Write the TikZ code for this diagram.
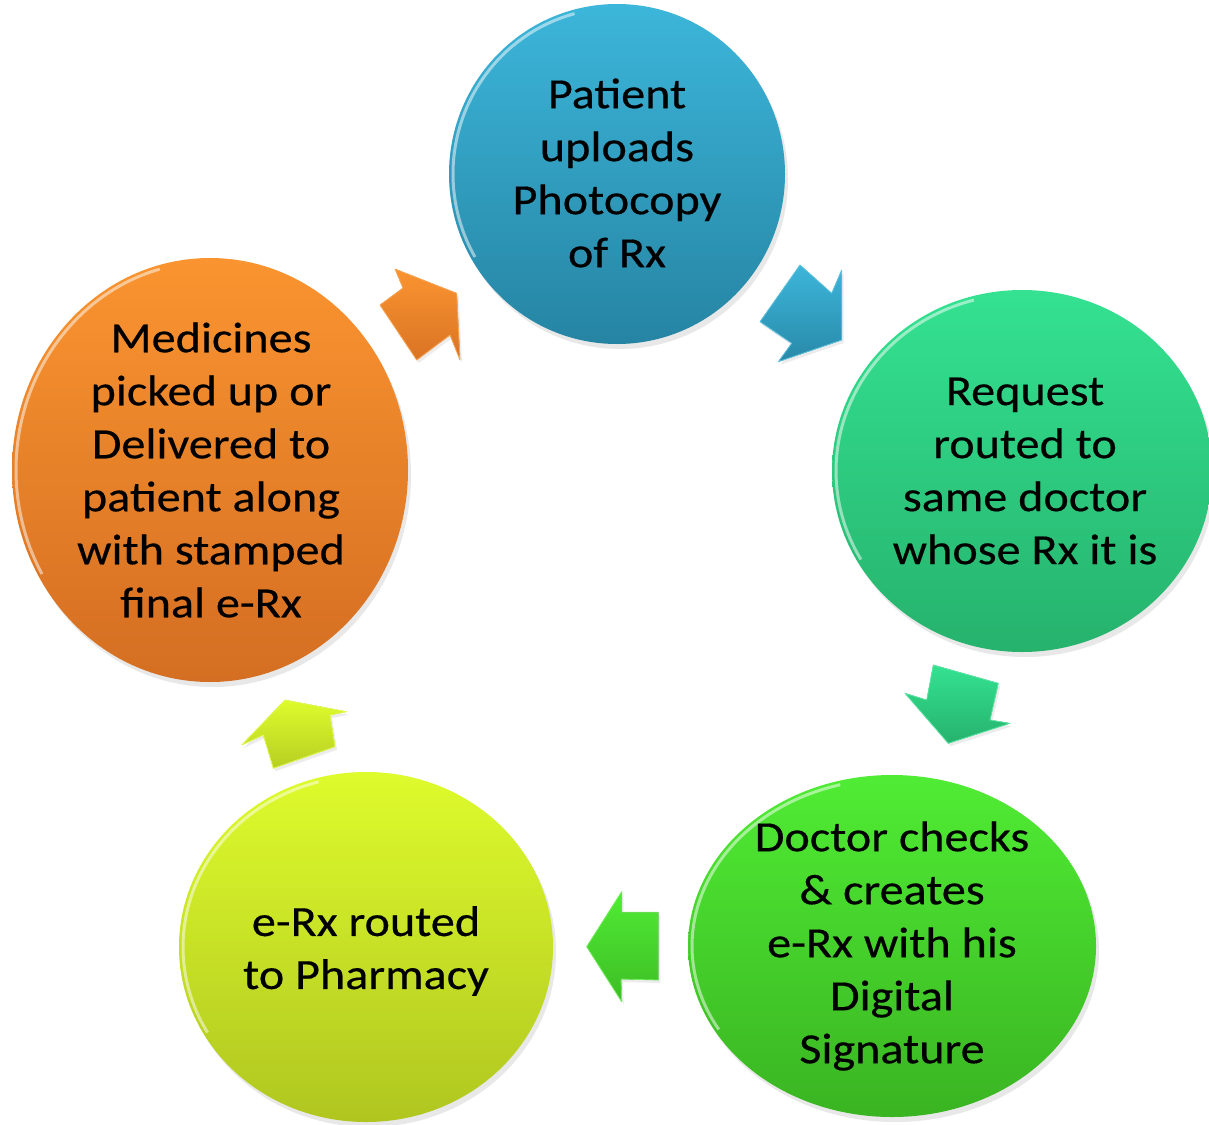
\documentclass[tikz,border=0pt]{standalone}
\usepackage{fontspec}
\setmainfont{Carlito}[FakeStretch=1.12,FakeBold=0.4]
\usetikzlibrary{shapes.geometric,shadows}
\definecolor{bluetop}{RGB}{60,182,218}
\definecolor{bluebot}{RGB}{38,132,163}
\definecolor{tealtop}{RGB}{52,226,145}
\definecolor{tealbot}{RGB}{38,178,108}
\definecolor{greentop}{RGB}{80,236,52}
\definecolor{greenbot}{RGB}{58,180,34}
\definecolor{yeltop}{RGB}{222,251,44}
\definecolor{yelbot}{RGB}{176,198,32}
\definecolor{orgtop}{RGB}{250,148,48}
\definecolor{orgbot}{RGB}{212,110,34}
\begin{document}
\begin{tikzpicture}[x=1pt,y=-1pt,
  stage/.style={ellipse, inner sep=0pt, draw=none,
    drop shadow={opacity=0.18, shadow xshift=3pt, shadow yshift=-5pt}},
  stagetext/.style={inner sep=0pt, align=center, text=black,
    font=\fontsize{43}{53}\selectfont},
  rim/.style={white, opacity=0.5, line width=3pt},
  blockarrow/.style={line width=0.8pt, line join=round,
    drop shadow={opacity=0.15, shadow xshift=2pt, shadow yshift=-3pt}}
]
\useasboundingbox[fill=white] (0,0) rectangle (1209,1124);

% stages
\node[stage, minimum width=336pt, minimum height=340pt, top color=bluetop, bottom color=bluebot] (c1) at (617,174) {};
\node[stage, minimum width=380pt, minimum height=362pt, top color=tealtop, bottom color=tealbot] (c2) at (1022,471) {};
\node[stage, minimum width=408pt, minimum height=342pt, top color=greentop, bottom color=greenbot] (c3) at (892,946) {};
\node[stage, minimum width=374pt, minimum height=350pt, top color=yeltop, bottom color=yelbot] (c4) at (366,947) {};
\node[stage, minimum width=396pt, minimum height=424pt, top color=orgtop, bottom color=orgbot] (c5) at (210,470) {};

% glossy rims
\draw[rim] (c1.center) ++(150:164 and 166) arc[start angle=150, end angle=255, x radius=164, y radius=166];
\draw[rim] (c2.center) ++(150:186 and 177) arc[start angle=150, end angle=255, x radius=186, y radius=177];
\draw[rim] (c3.center) ++(150:200 and 167) arc[start angle=150, end angle=255, x radius=200, y radius=167];
\draw[rim] (c4.center) ++(150:183 and 171) arc[start angle=150, end angle=255, x radius=183, y radius=171];
\draw[rim] (c5.center) ++(150:194 and 208) arc[start angle=150, end angle=255, x radius=194, y radius=208];

% texts
\node[stagetext] (t1) at ([yshift=1pt]c1.center) {Patient\\uploads\\Photocopy\\of Rx};
\node[stagetext] (t2) at ([xshift=3pt]c2.center) {Request\\routed to\\same doctor\\whose Rx it is};
\node[stagetext] (t3) at (c3.center) {Doctor checks\\\& creates\\e-Rx with his\\Digital\\Signature};
\node[stagetext] (t4) at ([yshift=-4pt]c4.center) {e-Rx routed\\to Pharmacy};
\node[stagetext] (t5) at ([xshift=1pt]c5.center) {Medicines\\picked up or\\Delivered to\\patient along\\with stamped\\final e-Rx};

% block arrows
\filldraw[blockarrow, draw=bluetop!80!white, top color=bluetop, bottom color=bluebot!90!bluetop]
  (800,265) -- (831.7,293.3) -- (841.7,270) -- (841.7,340) -- (778.3,361.7) -- (791.7,343.3) -- (760,321.7) -- cycle;
\filldraw[blockarrow, draw=tealtop!80!white, top color=tealtop, bottom color=tealbot]
  (933.3,665) -- (998.3,683.3) -- (990,720) -- (1010,723.3) -- (948.3,743.3) -- (905,693.3) -- (926.7,700) -- cycle;
\filldraw[blockarrow, draw=greentop!80!white, top color=greentop, bottom color=greenbot!85!greentop]
  (586.7,946.7) -- (621.7,891.7) -- (621.7,912.3) -- (658.3,912.3) -- (658.3,980) -- (621,979) -- (621.7,1001.7) -- cycle;
\filldraw[blockarrow, draw=yeltop!80!white, top color=yeltop, bottom color=yelbot!85!yeltop]
  (285,700) -- (346.7,711.7) -- (330,715) -- (335,746.7) -- (273.3,768.3) -- (263.3,735) -- (241.7,745) -- cycle;
\filldraw[blockarrow, draw=orgtop!80!white, top color=orgtop, bottom color=orgbot!85!orgtop]
  (395,269) -- (456.7,293.3) -- (460,360) -- (450,335) -- (416.7,360) -- (380,305) -- (403,288) -- cycle;
\end{tikzpicture}
\end{document}
